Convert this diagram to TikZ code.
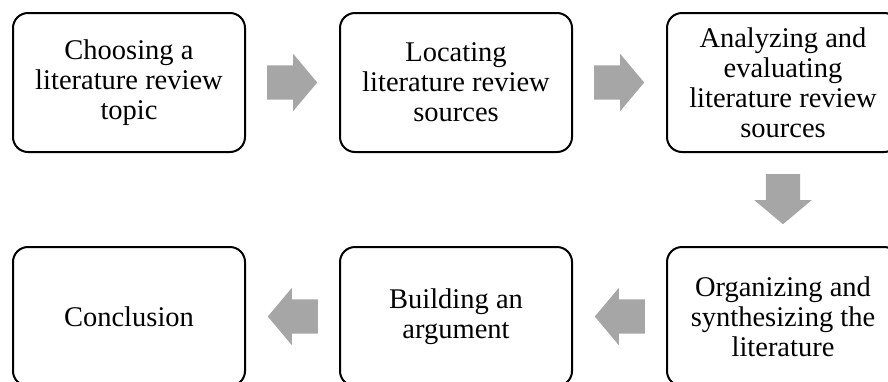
\documentclass[tikz,border=0pt]{standalone}
\usepackage{fontspec}
\setmainfont{Liberation Serif}
\usetikzlibrary{shapes.arrows}
\usetikzlibrary{positioning}
\definecolor{arrowgray}{RGB}{166,166,166}
\tikzstyle{stage} = [rectangle, rounded corners=15pt, minimum width=232pt, minimum height=139pt, text centered, align=center, draw=black, line width=2pt, font=\fontsize{28.5}{30}\selectfont]
\tikzstyle{blockarrow} = [single arrow, fill=arrowgray, draw=none, minimum height=50pt, inner xsep=0pt, inner ysep=17pt, single arrow head extend=11.5pt, single arrow tip angle=100, anchor=tail]

\begin{document}
\begin{tikzpicture}[node distance=93pt]

    \useasboundingbox (0,0) rectangle (888pt,-381pt);

    \node (topic) [stage] at (129pt,-82.5pt) {Choosing a\\literature review\\topic};
    \node (locate) [stage, right=of topic] {Locating\\literature review\\sources};
    \node (analyze) [stage, right=of locate] {Analyzing and\\evaluating\\literature review\\sources};

    \node (organize) [stage, below=of analyze] {Organizing and\\synthesizing the\\literature};
    \node (argument) [stage, left=of organize] {Building an\\argument};
    \node (conclusion) [stage, left=of argument] {Conclusion};

    \node (arrow1) [blockarrow] at ([xshift=21pt]topic.east) {};
    \node (arrow2) [blockarrow] at ([xshift=21pt]locate.east) {};
    \node (arrow3) [blockarrow, rotate=-90] at ([yshift=-21pt]analyze.south) {};
    \node (arrow4) [blockarrow, rotate=180] at ([xshift=-21pt]organize.west) {};
    \node (arrow5) [blockarrow, rotate=180] at ([xshift=-21pt]argument.west) {};

\end{tikzpicture}
\end{document}
